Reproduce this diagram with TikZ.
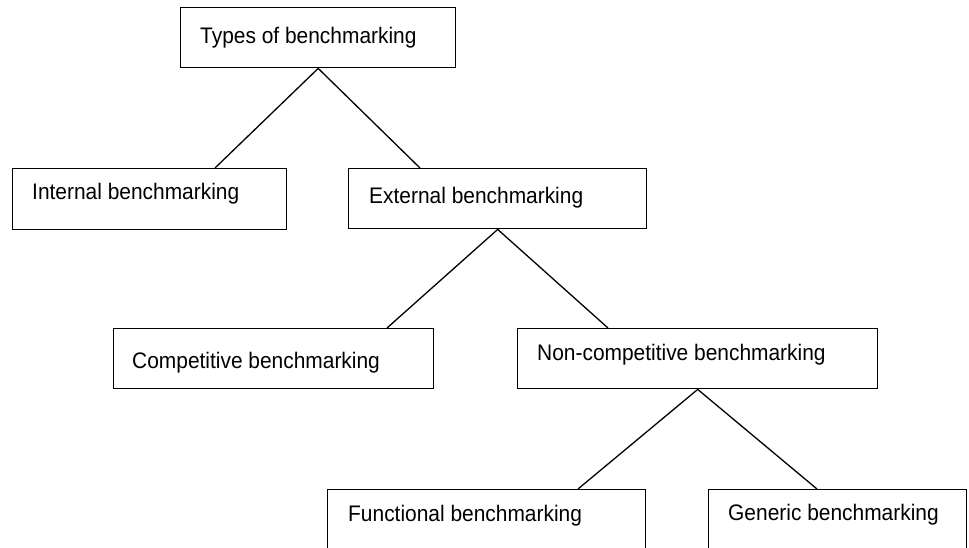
\documentclass[tikz,border=0pt]{standalone}
\usepackage{fontspec}
\setmainfont[FakeStretch=0.93]{Liberation Sans}
\begin{document}
\begin{tikzpicture}[x=1pt,y=-1pt,
  box/.style={draw, line width=1.4pt, inner sep=0pt, anchor=north west},
  label/.style={anchor=base west, inner sep=0pt, font=\fontsize{22.5}{27}\selectfont},
  link/.style={line width=1.3pt}]
\useasboundingbox (0,0) rectangle (969,548);
% boxes
\node[box, minimum width=275pt, minimum height=60pt] (types) at (180,7) {};
\node[box, minimum width=274pt, minimum height=61pt] (int) at (12,168) {};
\node[box, minimum width=298pt, minimum height=60pt] (ext) at (348,168) {};
\node[box, minimum width=320pt, minimum height=60pt] (comp) at (113,328) {};
\node[box, minimum width=360pt, minimum height=60pt] (noncomp) at (517,328) {};
\node[box, minimum width=318pt, minimum height=64pt] (func) at (327,489) {};
\node[box, minimum width=258pt, minimum height=64pt] (gen) at (708,489) {};
% labels
\node[label] (tTypes) at (200,44) {Types of benchmarking};
\node[label] (tInt) at (32,200) {Internal benchmarking};
\node[label] (tExt) at (369,204) {External benchmarking};
\node[label] (tComp) at (132,368) {Competitive benchmarking};
\node[label] (tNon) at (537,360) {Non-competitive benchmarking};
\node[label] (tFunc) at (348,521) {Functional benchmarking};
\node[label] (tGen) at (728,520) {Generic benchmarking};
% connectors
\draw[link] (types.south) -- (int.north -| 215,0);
\draw[link] (types.south) -- (ext.north -| 420,0);
\draw[link] (ext.south) -- (comp.north -| 387,0);
\draw[link] (ext.south) -- (noncomp.north -| 608,0);
\draw[link] (noncomp.south) -- (func.north -| 578,0);
\draw[link] (noncomp.south) -- (gen.north -| 817,0);
\end{tikzpicture}
\end{document}
